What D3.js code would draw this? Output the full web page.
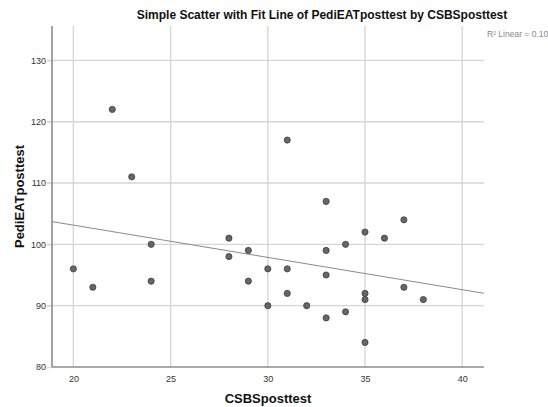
<!DOCTYPE html>
<html>
<head>
<meta charset="utf-8">
<script src="https://cdn.jsdelivr.net/npm/d3@7"></script>
<style>
  body { margin: 0; background: #fff; }
  svg { font-family: "Liberation Sans", Arial, sans-serif; display: block; }
</style>
</head>
<body>
<div class="container"></div>
<script>
// CSBSposttest (x) and PediEATposttest (y), one entry per case
const csbs = [20, 21, 22, 23, 24, 24, 28, 28, 29, 29, 30, 30, 31, 31, 31,
  32, 33, 33, 33, 33, 34, 34, 35, 35, 35, 35, 36, 37, 37, 38];
const pedieat = [96, 93, 122, 111, 100, 94, 101, 98, 99, 94, 96, 90, 117, 96, 92,
  90, 107, 99, 95, 88, 100, 89, 102, 92, 91, 84, 101, 104, 93, 91];

const xTicks = [20, 25, 30, 35, 40];
const yTicks = [80, 90, 100, 110, 120, 130];
const xDomain = [18.9, 41.12];
const yDomain = [80, 135.6];

const W = 548, H = 407;
const margin = { top: 26, right: 64, bottom: 40, left: 52 };
const width = W - margin.left - margin.right;
const height = H - margin.top - margin.bottom;

const points = csbs.map((x, i) => ({ x: x, y: pedieat[i] }));

// least squares fit
const mx = d3.mean(csbs), my = d3.mean(pedieat);
const sxy = d3.sum(points, (d) => (d.x - mx) * (d.y - my));
const sxx = d3.sum(points, (d) => (d.x - mx) * (d.x - mx));
const syy = d3.sum(points, (d) => (d.y - my) * (d.y - my));
const slope = sxy / sxx;
const intercept = my - slope * mx;
const r2 = (sxy * sxy) / (sxx * syy);

const svg = d3.select(".container")
  .append("svg")
  .attr("width", W)
  .attr("height", H);

const g = svg.append("g")
  .attr("transform", "translate(" + margin.left + "," + margin.top + ")");

const xScale = d3.scaleLinear().domain(xDomain).range([0, width]);
const yScale = d3.scaleLinear().domain(yDomain).range([height, 0]);

// grid lines
g.append("g")
  .selectAll("line")
  .data(xTicks)
  .enter()
  .append("line")
  .attr("x1", (d) => xScale(d))
  .attr("x2", (d) => xScale(d))
  .attr("y1", 0)
  .attr("y2", height)
  .attr("stroke", "#d6d6d6")
  .attr("stroke-width", 1.4);

g.append("g")
  .selectAll("line")
  .data(yTicks.filter((d) => d !== 80))
  .enter()
  .append("line")
  .attr("x1", -5)
  .attr("x2", width)
  .attr("y1", (d) => yScale(d))
  .attr("y2", (d) => yScale(d))
  .attr("stroke", "#d6d6d6")
  .attr("stroke-width", 1.4);

// axes
const xAxis = d3.axisBottom(xScale).tickValues(xTicks).tickSize(0).tickPadding(9);
const yAxis = d3.axisLeft(yScale).tickValues(yTicks).tickSize(5).tickPadding(1);

const gx = g.append("g")
  .attr("transform", "translate(0," + height + ")")
  .call(xAxis);
const gy = g.append("g").call(yAxis);

[gx, gy].forEach((a) => {
  a.select(".domain").remove();
  a.selectAll("text")
    .attr("fill", "#333")
    .style("font-size", "9px")
    .style("font-family", "'Liberation Sans', Arial, sans-serif");
  a.selectAll(".tick line").attr("stroke", "#d6d6d6").attr("stroke-width", 1.4);
});

g.append("line")
  .attr("x1", 0).attr("x2", 0)
  .attr("y1", 0).attr("y2", height)
  .attr("stroke", "#8c8c8c")
  .attr("stroke-width", 1.6);
g.append("line")
  .attr("x1", 0).attr("x2", width)
  .attr("y1", height).attr("y2", height)
  .attr("stroke", "#8c8c8c")
  .attr("stroke-width", 1.6);

// fit line
g.append("line")
  .attr("x1", xScale(xDomain[0]))
  .attr("y1", yScale(intercept + slope * xDomain[0]))
  .attr("x2", xScale(xDomain[1]))
  .attr("y2", yScale(intercept + slope * xDomain[1]))
  .attr("stroke", "#8a8a8a")
  .attr("stroke-width", 1);

// points
g.append("g")
  .selectAll("circle")
  .data(points)
  .enter()
  .append("circle")
  .attr("cx", (d) => xScale(d.x))
  .attr("cy", (d) => yScale(d.y))
  .attr("r", 3.1)
  .attr("fill", "#666")
  .attr("stroke", "#333")
  .attr("stroke-width", 0.7);

// texts
svg.append("text")
  .attr("x", 322)
  .attr("y", 19)
  .attr("text-anchor", "middle")
  .style("font-size", "12px")
  .style("font-weight", "bold")
  .attr("fill", "#111")
  .text("Simple Scatter with Fit Line of PediEATposttest by CSBSposttest");

svg.append("text")
  .attr("x", margin.left + width + 3)
  .attr("y", 37)
  .style("font-size", "8.5px")
  .attr("fill", "#888")
  .text("R\u00b2 Linear = " + r2.toFixed(3));

svg.append("text")
  .attr("x", margin.left + width / 2)
  .attr("y", 403)
  .attr("text-anchor", "middle")
  .style("font-size", "13px")
  .style("font-weight", "bold")
  .attr("fill", "#111")
  .text("CSBSposttest");

svg.append("text")
  .attr("transform", "translate(24," + (margin.top + height / 2) + ") rotate(-90)")
  .attr("text-anchor", "middle")
  .style("font-size", "13px")
  .style("font-weight", "bold")
  .attr("fill", "#111")
  .text("PediEATposttest");
</script>
</body>
</html>
